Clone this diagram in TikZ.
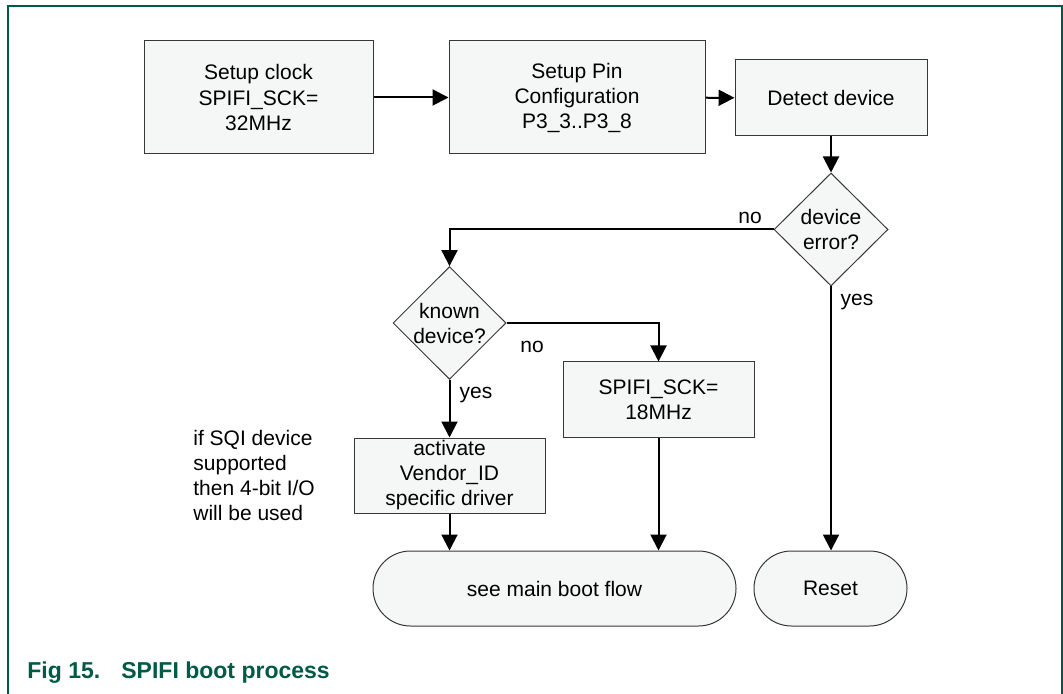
\documentclass[tikz,border=0pt]{standalone}
\usepackage{fontspec}
\setmainfont{Liberation Sans}
\usetikzlibrary{shapes.geometric, shapes.misc, arrows.meta}

\definecolor{nxpgreen}{RGB}{0,90,70}
\definecolor{boxfill}{RGB}{245,247,246}
\definecolor{boxline}{RGB}{55,55,55}

\begin{document}
\begin{tikzpicture}[x=0.5pt, y=-0.5pt,
    every node/.style={font=\fontsize{10.5}{12.5}\selectfont},
    block/.style={draw=boxline, fill=boxfill, line width=0.5pt, align=center, inner sep=0pt},
    decision/.style={diamond, aspect=1, draw=boxline, fill=boxfill, line width=0.5pt, align=center, inner sep=0pt},
    terminal/.style={rounded rectangle, draw=boxline, fill=boxfill, line width=0.5pt, inner sep=0pt},
    flow/.style={line width=1pt, -{Triangle[length=8pt, width=8pt]}},
    frame/.style={draw=nxpgreen, line width=1pt}]
          \useasboundingbox (0,0) rectangle (1063,694);
          \draw[frame] (8,694) -- (8,6) -- (1062,6) -- (1062,694);

          % top row
          \node[block, minimum width=114.5pt, minimum height=56.5pt] (clock) at (258.5,97.5)
            {Setup clock\\SPIFI\_SCK=\\32MHz};
          \node[block, minimum width=128pt, minimum height=56.5pt] (pins) at (577,97.5)
            {Setup Pin\\Configuration\\P3\_3..P3\_8};
          \node[block, minimum width=96pt, minimum height=38pt] (detect) at (831,98) {Detect device};

          % decisions
          \node[decision, minimum width=57pt, minimum height=56.5pt] (deverr) at (831,229.5) {device\\error?};
          \node[decision, minimum width=56.5pt, minimum height=56pt] (known) at (449.5,323) {known\\device?};

          \node[block, minimum width=95.5pt, minimum height=37.5pt] (slow) at (658.5,399.5) {SPIFI\_SCK=\\18MHz};
          \node[block, minimum width=95.5pt, minimum height=37.5pt] (vendor) at (449.5,475.5)
            {activate\\Vendor\_ID\\specific driver};
          \node[anchor=west, align=left, inner sep=0pt] (sqinote) at (193,475)
            {if SQI device\\supported\\then 4-bit I/O\\will be used};

          % end points
          \node[terminal, minimum width=181.5pt, minimum height=37.5pt] (bootflow) at (554.5,588.5) {see main boot flow};
          \node[terminal, minimum width=76.5pt, minimum height=37.5pt] (reset) at (830.5,588.5) {Reset};

          \draw[flow] (clock) -- (pins);
          \draw[flow] (pins) -- (detect);
          \draw[flow] (detect) -- (deverr);
          \draw[flow] (deverr.west) -| (known.north);
          \draw[flow] (known.east) -| (slow.north);
          \draw[flow] (known) -- (vendor);
          \draw[flow] (vendor.south) -- (vendor.south |- bootflow.north);
          \draw[flow] (slow.south) -- (slow.south |- bootflow.north);
          \draw[flow] (deverr.south) -- (deverr.south |- reset.north);

          \node (errno) at (750,218) {no};
          \node (erryes) at (857,302) {yes};
          \node (knownno) at (532,347) {no};
          \node (knownyes) at (476,395) {yes};

          \node[anchor=west, inner sep=0pt, text=nxpgreen, font=\fontsize{11.5}{14}\selectfont\bfseries] (caption) at (27,673)
            {\makebox[47pt][l]{Fig 15.}SPIFI boot process};
        \end{tikzpicture}
\end{document}
